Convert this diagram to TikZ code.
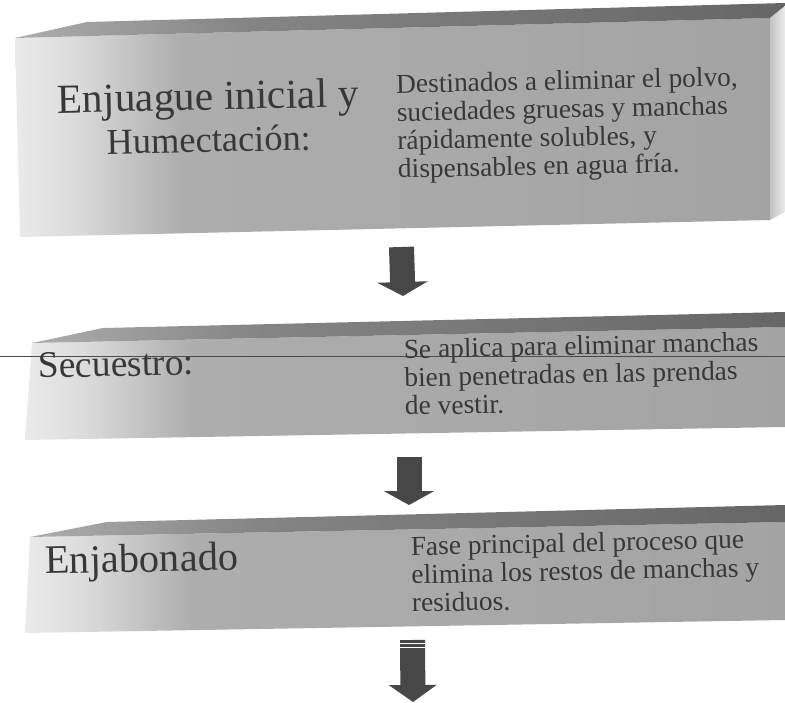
\documentclass[tikz,border=0pt]{standalone}
\usepackage{fontspec}
\setmainfont{Liberation Serif}
\usetikzlibrary{arrows.meta}
\pgfdeclarehorizontalshading{faceshade}{100bp}{color(0bp)=(black!8); color(25bp)=(black!8); color(29bp)=(black!14); color(36bp)=(black!32); color(75bp)=(black!36); color(100bp)=(black!36)}
\pgfdeclarehorizontalshading{topshade}{100bp}{color(0bp)=(black!32); color(25bp)=(black!32); color(40bp)=(black!48); color(75bp)=(black!60); color(100bp)=(black!60)}
\newcommand{\titlesize}[1]{\fontsize{#1}{42}\selectfont}
\tikzset{
  face/.style={shading=faceshade},
  bevel/.style={shading=topshade},
  side/.style={left color=black!24, right color=black!8},
  title/.style={inner sep=0pt, text=black!78, font=\titlesize{41.4}, rotate=1.2},
  note/.style={inner sep=0pt, text=black!78, align=left, font=\fontsize{27.4}{28.3}\selectfont, rotate=1.2},
  blockarrow/.style={draw=black!72, line width=25pt, -{Triangle[length=14pt,width=50pt]}}
}
\begin{document}
\begin{tikzpicture}[x=1pt,y=-1pt]
  \useasboundingbox (0,0) rectangle (785,703);
  % first box
  \shade[face] (15,38) -- (770,18) -- (770,220) -- (20,237) -- cycle;
  \shade[bevel] (15,38) -- (87,22) -- (785,3) -- (785,6) -- (770,18) -- cycle;
  \shade[side] (770,18) -- (785,6) -- (785,212) -- (770,220) -- cycle;
  % second box
  \shade[face] (32,343) -- (785,327) -- (785,427) -- (25,440) -- cycle;
  \shade[bevel] (32,343) -- (103,328) -- (785,312) -- (785,327) -- cycle;
  % third box
  \shade[face] (30,537) -- (785,522) -- (785,620) -- (25,633) -- cycle;
  \shade[bevel] (30,537) -- (107,522) -- (785,505) -- (785,522) -- cycle;
  \draw[black!70, line width=0.8pt] (0,356) -- (785,356);

  \node[title, anchor=base, align=center] (humect) at (209,152) {Enjuague inicial y\\\titlesize{36.4}Humectación:};
  \node[note, anchor=base west] (humectnote) at (398,178) {Destinados a eliminar el polvo,\\suciedades gruesas y manchas\\rápidamente solubles, y\\dispensables en agua fría.};
  \node[title, anchor=base west, font=\titlesize{37.5}] (secuestro) at (38,378) {Secuestro:};
  \node[note, anchor=base west] (secuestronote) at (405,415) {Se aplica para eliminar manchas\\bien penetradas en las prendas\\de vestir.};
  \node[title, anchor=base west, font=\titlesize{40.5}] (enjabonado) at (45,574) {Enjabonado};
  \node[note, anchor=base west] (enjabonadonote) at (412,612) {Fase principal del proceso que\\elimina los restos de manchas y\\residuos.};

  \coordinate (a1) at (401.5,247);
  \coordinate (b1) at (403,296);
  \coordinate (a2) at (409,457);
  \coordinate (b2) at (409,505);
  \coordinate (a3) at (412.5,640);
  \coordinate (b3) at (413,702);
  \begin{scope}[blockarrow]
    \draw (a1) -- (b1);
    \draw (a2) -- (b2);
    \draw[-{Triangle[length=17pt,width=47pt]}] (a3) -- (b3);
  \end{scope}
  \draw[white, line width=1pt] (400,643.5) -- (425,643.5) (400,647.5) -- (425,647.5);
\end{tikzpicture}
\end{document}
